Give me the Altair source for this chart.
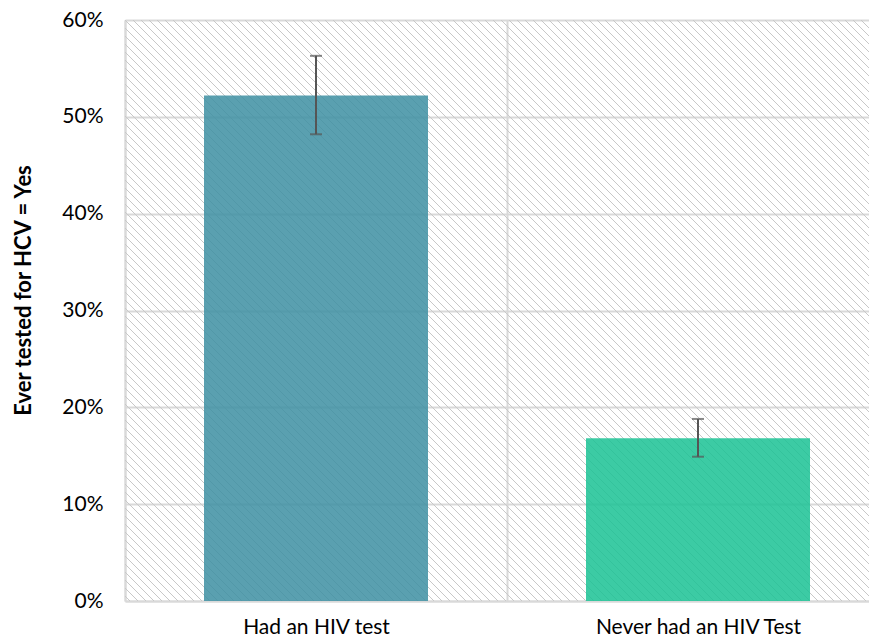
import altair as alt
import pandas as pd

categories = ["Had an HIV test", "Never had an HIV Test"]
pct = [0.522, 0.168]
err_lo = [0.482, 0.149]
err_hi = [0.563, 0.188]
colors = ["#3D8FA2", "#1AC294"]
y_ticks = [0.0, 0.1, 0.2, 0.3, 0.4, 0.5, 0.6]

df = pd.DataFrame({"cat": categories, "pct": pct, "lo": err_lo, "hi": err_hi})

GRID = "#D9D9D9"
FONT = "Lato"

x_axis = alt.Axis(
    title=None, labelAngle=0, labelFont=FONT, labelFontSize=21, labelColor="#000000",
    labelPadding=15, labelLimit=0, ticks=False, tickBand="extent", grid=True,
    gridColor=GRID, gridWidth=2, domainColor=GRID, domainWidth=2,
)
x_scale = alt.Scale(range=[0, 764], paddingInner=0, paddingOuter=0)

y_axis = alt.Axis(
    values=y_ticks, format=".0%", title="Ever tested for HCV = Yes",
    titleFont=FONT, titleFontSize=22, titleFontWeight="bold", titleColor="#000000",
    titleAngle=270, titleBaseline="middle", titleAlign="center",
    titleX=-102, titleY=270,
    labelFont=FONT, labelFontSize=21, labelColor="#000000", labelPadding=22,
    ticks=False, grid=True, gridColor=GRID, gridWidth=2,
    domainColor=GRID, domainWidth=2,
)
y_scale = alt.Scale(domain=[0, 0.6], nice=False)


def xenc():
    return alt.X("cat:N", sort=categories, scale=x_scale, axis=x_axis)


hatch = (
    alt.Chart(alt.sequence(-76, 98, as_="i"))
    .transform_calculate(hx="datum.i * 8", hx2="datum.i * 8 + 600", hy="0", hy2="600")
    .mark_rule(clip=True, stroke="#c8c8c8", strokeWidth=1)
    .encode(
        x=alt.X("hx:Q", scale=None, axis=None),
        x2="hx2:Q",
        y=alt.Y("hy:Q", scale=None, axis=None),
        y2="hy2:Q",
    )
)

base = alt.Chart(df)

bars = base.mark_bar(opacity=0.85, width=224).encode(
    x=xenc(),
    y=alt.Y("pct:Q", scale=y_scale, axis=y_axis),
    color=alt.Color("cat:N", scale=alt.Scale(domain=categories, range=colors), legend=None),
)

err_rule = base.mark_rule(color="#555555", strokeWidth=2).encode(
    x=xenc(),
    y=alt.Y("lo:Q", scale=y_scale, axis=y_axis),
    y2="hi:Q",
)

tick_hi = base.mark_tick(color="#555555", thickness=2, size=12, orient="horizontal").encode(
    x=xenc(),
    y=alt.Y("hi:Q", scale=y_scale, axis=y_axis),
)

tick_lo = base.mark_tick(color="#555555", thickness=2, size=12, orient="horizontal").encode(
    x=xenc(),
    y=alt.Y("lo:Q", scale=y_scale, axis=y_axis),
)

chart = (
    alt.layer(hatch, bars, err_rule, tick_hi, tick_lo)
    .properties(
        width=744,
        height=581,
        autosize=alt.AutoSizeParams(type="none"),
        padding={"left": 117, "top": 12, "right": 0, "bottom": 34},
        background="white",
    )
    .configure_view(stroke=None)
)

chart.save("out.html", embed_options={"renderer": "svg", "actions": False})
